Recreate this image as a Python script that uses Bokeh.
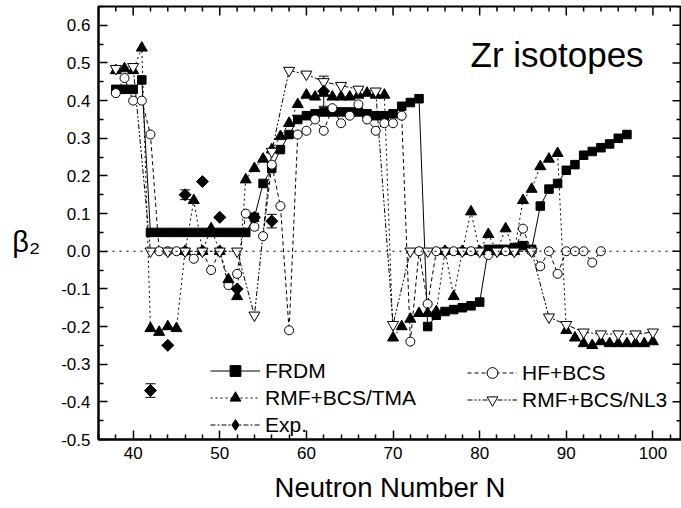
import numpy as np
from bokeh.plotting import figure
from bokeh.models import (Range1d, Legend, LegendItem, Label, Span, Whisker,
                          ColumnDataSource, FixedTicker, PrintfTickFormatter, TeeHead)
from bokeh.embed import file_html
from bokeh.resources import INLINE

# ---------------- data ----------------
n_frdm = list(range(38, 98))
b_frdm = [0.43, 0.43, 0.43, 0.455,
          0.05, 0.05, 0.05, 0.05, 0.05, 0.05, 0.05, 0.05, 0.05, 0.05, 0.05, 0.05,
          0.09, 0.18, 0.22, 0.27, 0.31, 0.35,
          0.36, 0.365, 0.37, 0.37, 0.37, 0.37, 0.37, 0.365, 0.36, 0.36,
          0.365, 0.385, 0.395, 0.405,
          -0.20, -0.17, -0.16, -0.155, -0.15, -0.145, -0.135,
          0.005, 0.005, 0.005, 0.01, 0.015, 0.005,
          0.12, 0.165, 0.18, 0.215, 0.23, 0.255, 0.265, 0.275, 0.285, 0.30, 0.31]

n_hf = list(range(38, 95))
b_hf = [0.42, 0.46, 0.40, 0.40, 0.31, 0.0, 0.0, 0.0, 0.0, -0.02, 0.0, -0.05, 0.0, -0.09, -0.06,
        0.10, 0.065, 0.04, 0.23, 0.12, -0.21, 0.31, 0.32, 0.35, 0.32, 0.38, 0.34, 0.36, 0.39,
        0.35, 0.32, 0.34, 0.34, 0.36, -0.24, 0.0, -0.14, 0.0, 0.0, 0.0, 0.0, 0.0, 0.0, -0.01,
        0.0, 0.0, 0.0, 0.06, 0.0, -0.04, 0.0, -0.06, 0.0, 0.0, 0.0, -0.03, 0.0]

n_tma = list(range(38, 101))
b_tma = [0.48, 0.485, 0.48, 0.54, -0.205, -0.215, -0.20, -0.205, 0.0, 0.135, 0.0, 0.06, 0.0,
         -0.075, -0.12, 0.19, 0.22, 0.245, 0.27, 0.305, 0.34, 0.39, 0.415, 0.41, 0.42, 0.41,
         0.41, 0.41, 0.415, 0.42, 0.415, 0.415, -0.23, -0.20, -0.18, -0.165, -0.165, -0.16,
         0.0, -0.12, 0.0, 0.105, 0.0, 0.045, 0.0, 0.06, 0.0, 0.135, 0.165, 0.225, 0.245, 0.26,
         -0.21, -0.23, -0.245, -0.25, -0.24, -0.245, -0.245, -0.245, -0.245, -0.245, -0.24]

n_nl3 = list(range(38, 101, 2))
b_nl3 = [0.485, 0.49, 0.0, 0.0, 0.0, 0.0, 0.0, 0.0, -0.17, 0.265, 0.48, 0.47, 0.45, 0.44,
         0.43, 0.425, -0.195, 0.0, 0.0, 0.0, 0.0, 0.0, 0.0, 0.0, 0.0, -0.175, -0.195, -0.215,
         -0.22, -0.22, -0.22, -0.215]

n_exp = [42, 44, 46, 48, 50, 52, 54, 56, 62]
b_exp = [-0.37, -0.25, 0.15, 0.185, 0.09, -0.10, 0.09, 0.08, 0.425]
e_exp = [0.018, 0.0, 0.013, 0.0, 0.0, 0.0, 0.0, 0.018, 0.04]

x_ticks = [40, 50, 60, 70, 80, 90, 100]
y_ticks = [-0.5, -0.4, -0.3, -0.2, -0.1, 0.0, 0.1, 0.2, 0.3, 0.4, 0.5, 0.6]

FONT = "Liberation Sans"

X0, X1 = 36, 103.3
Y0, Y1 = -0.5, 0.65
W, H = 681, 508
BL, BR, BT, BB = 98, 0, 6, 69

# ---------------- figure ----------------
p = figure(width=W, height=H, output_backend="svg", toolbar_location=None,
           x_range=Range1d(X0, X1), y_range=Range1d(Y0, Y1),
           min_border_left=BL, min_border_right=BR, min_border_top=BT, min_border_bottom=BB)
p.grid.visible = False
p.outline_line_color = "black"
p.outline_line_width = 2
p.background_fill_color = "white"
p.border_fill_color = "white"

xminor = [x for x in range(36, 104, 2) if x % 10 != 0]
yminor = [round(-0.5 + 0.05 * i, 2) for i in range(24) if i % 2 == 1]

def style_axis(ax, kind):
    if kind == "x":
        ax.ticker = FixedTicker(ticks=x_ticks, minor_ticks=xminor)
    else:
        ax.ticker = FixedTicker(ticks=y_ticks, minor_ticks=yminor)
        ax.formatter = PrintfTickFormatter(format="%.1f")
    ax.major_tick_in = 9
    ax.major_tick_out = 0
    ax.minor_tick_in = 5
    ax.minor_tick_out = 0
    ax.major_tick_line_width = 1.5
    ax.minor_tick_line_width = 1.5
    ax.axis_line_width = 2
    ax.major_tick_line_color = "black"
    ax.minor_tick_line_color = "black"
    ax.axis_line_color = "black"
    ax.major_label_text_font = FONT
    ax.major_label_text_font_size = "17px"
    ax.major_label_text_color = "black"

xa = p.xaxis[0]
ya = p.yaxis[0]
style_axis(xa, "x")
style_axis(ya, "y")
xa.major_label_standoff = 7
ya.major_label_standoff = 8
xa.axis_label = "Neutron Number N"
xa.axis_label_text_font = FONT
xa.axis_label_text_font_size = "27.5px"
xa.axis_label_text_font_style = "normal"
xa.axis_label_text_color = "black"
xa.axis_label_standoff = 10

ya.axis_label = "\nβ₂"
ya.axis_label_orientation = "horizontal"
ya.axis_label_text_font = FONT
ya.axis_label_text_font_size = "29px"
ya.axis_label_text_font_style = "normal"
ya.axis_label_text_color = "black"
ya.axis_label_standoff = 18

# inward ticks on the top and right frame edges (no labels there)
ypp = (Y1 - Y0) / (H - BT - BB)
xpp = (X1 - X0) / (W - BL - BR)
p.segment(x0=x_ticks, y0=[Y1] * len(x_ticks), x1=x_ticks, y1=[Y1 - 9 * ypp] * len(x_ticks),
          line_color="black", line_width=1.5)
p.segment(x0=xminor, y0=[Y1] * len(xminor), x1=xminor, y1=[Y1 - 5 * ypp] * len(xminor),
          line_color="black", line_width=1.5)
p.segment(x0=[X1] * len(y_ticks), y0=y_ticks, x1=[X1 - 9 * xpp] * len(y_ticks), y1=y_ticks,
          line_color="black", line_width=1.5)
p.segment(x0=[X1] * len(yminor), y0=yminor, x1=[X1 - 5 * xpp] * len(yminor), y1=yminor,
          line_color="black", line_width=1.5)

# ---------------- series ----------------
l_frdm = p.line(n_frdm, b_frdm, line_color="black", line_width=1)
l_hf = p.line(n_hf, b_hf, line_color="black", line_width=1, line_dash="4 3")
l_tma = p.line(n_tma, b_tma, line_color="black", line_width=1, line_dash="2 3")
l_nl3 = p.line(n_nl3, b_nl3, line_color="black", line_width=1, line_dash="5 2 2 2 2 2")
# experimental points are not joined in the plot: a one-point line only serves as legend key
l_exp = p.line(n_exp[:1], b_exp[:1], line_color="black", line_width=1, line_dash="5 2 2 2")

s_frdm = p.scatter(n_frdm, b_frdm, marker="square", size=8.5, fill_color="black", line_color="black")
s_hf = p.scatter(n_hf, b_hf, marker="circle", size=9, fill_color="white", line_color="black", line_width=1)
s_tma = p.scatter(n_tma, b_tma, marker="triangle", size=11, fill_color="black", line_color="black")
s_nl3 = p.scatter(n_nl3, b_nl3, marker="inverted_triangle", size=11, fill_color="white",
                  line_color="black", line_width=1)
# legend key for the diamonds (hidden below the first experimental point)
k_exp = p.scatter(n_exp[:1], b_exp[:1], marker="diamond", size=12, fill_color="black", line_color="black")
s_exp = p.scatter(n_exp, b_exp, marker="square", size=8.5, angle=np.pi / 4,
                  fill_color="black", line_color="black")

idx = [i for i, e in enumerate(e_exp) if e > 0]
err_src = ColumnDataSource(dict(
    x=[n_exp[i] for i in idx],
    upper=[b_exp[i] + e_exp[i] for i in idx],
    lower=[b_exp[i] - e_exp[i] for i in idx]))
wh = Whisker(base="x", upper="upper", lower="lower", source=err_src, dimension="height",
             line_color="black", line_width=1,
             upper_head=TeeHead(size=10, line_color="black", line_width=1),
             lower_head=TeeHead(size=10, line_color="black", line_width=1))
p.add_layout(wh)

zero = Span(location=0.0, dimension="width", line_color="black", line_width=1, line_dash="2 5")
p.add_layout(zero)

# ---------------- legends ----------------
def make_legend(items, loc):
    return Legend(items=items, location=loc, orientation="vertical",
                  glyph_width=50, glyph_height=27, label_height=27, label_standoff=5,
                  spacing=0, padding=0, margin=0,
                  label_text_font=FONT, label_text_font_size="21px", label_text_color="black",
                  background_fill_alpha=0, border_line_alpha=0)

leg1 = make_legend([LegendItem(label="FRDM", renderers=[l_frdm, s_frdm]),
                    LegendItem(label="RMF+BCS/TMA", renderers=[l_tma, s_tma]),
                    LegendItem(label="Exp.", renderers=[l_exp, k_exp])], (112, 1))
leg2 = make_legend([LegendItem(label="HF+BCS", renderers=[l_hf, s_hf]),
                    LegendItem(label="RMF+BCS/NL3", renderers=[l_nl3, s_nl3])], (369, 26))
p.add_layout(leg1)
p.add_layout(leg2)

# ---------------- texts ----------------
p.add_layout(Label(x=372, y=385, x_units="screen", y_units="screen", text="Zr isotopes",
                   text_font=FONT, text_font_size="35px", text_color="black",
                   text_baseline="alphabetic"))

open("out.html", "w").write(file_html(p, INLINE))
